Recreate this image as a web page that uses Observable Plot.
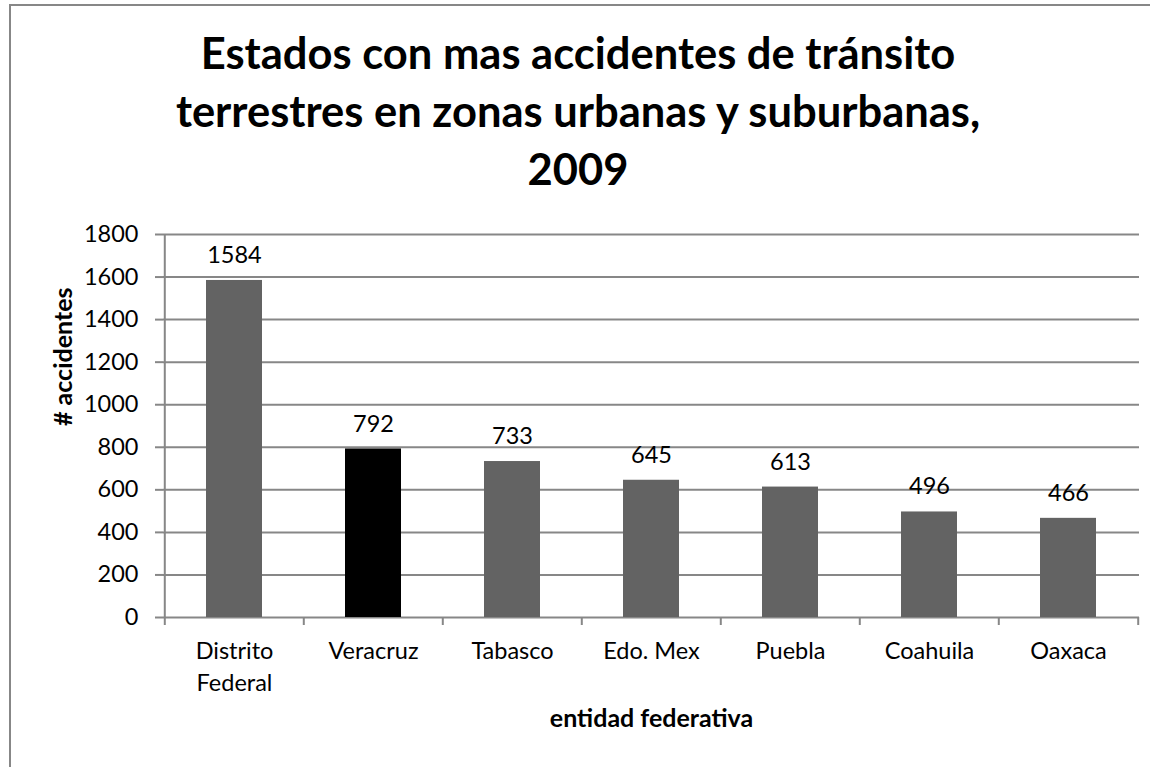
<!DOCTYPE html>
<html>
<head>
<meta charset="utf-8">
<script src="https://cdn.jsdelivr.net/npm/d3@7"></script>
<script src="https://cdn.jsdelivr.net/npm/@observablehq/plot@0.6"></script>
<style>
  html, body { margin: 0; padding: 0; background: #fff; }
  #wrap { position: relative; width: 1150px; height: 767px; overflow: hidden; font-family: Lato, "Open Sans", sans-serif; background: #fff; }
  #border { position: absolute; left: 9px; top: 4px; width: 1200px; height: 800px; border-top: 2px solid #878787; border-left: 2px solid #878787; box-sizing: border-box; z-index: 5; pointer-events: none; }
  #title { position: absolute; left: 0; top: 0; width: 1156px; height: 215px; text-align: center; font-weight: 700; font-size: 43.5px; line-height: 58px; padding-top: 23px; box-sizing: border-box; color: #000; }
  #chart { position: absolute; left: 0; top: 215px; }
</style>
</head>
<body>
<div id="wrap">
  <div id="border"></div>
  <div id="title">Estados con mas accidentes de tránsito<br>terrestres en zonas urbanas y suburbanas,<br>2009</div>
  <div id="chart"></div>
</div>
<script>
const categories = ["Distrito Federal", "Veracruz", "Tabasco", "Edo. Mex", "Puebla", "Coahuila", "Oaxaca"];
const values = [1584, 792, 733, 645, 613, 496, 466];
const highlighted = ["Veracruz"];
const yTicks = [0, 200, 400, 600, 800, 1000, 1200, 1400, 1600, 1800];
const xTitle = "entidad federativa";
const yTitle = "# accidentes";

const data = categories.map((c, i) => ({category: c, value: values[i]}));

const W = 1150, H = 552;
const mL = 163, mR = 11, mT = 19, mB = 150;
const step = (W - mL - mR) / categories.length;
const grid = "#878787";
const labelFont = 23.5;

const plot = Plot.plot({
  width: W,
  height: H,
  marginLeft: mL,
  marginRight: mR,
  marginTop: mT,
  marginBottom: mB,
  style: {fontFamily: "Lato, 'Open Sans', sans-serif", fontSize: labelFont + "px", color: "#000", background: "transparent", overflow: "visible"},
  x: {domain: categories, paddingInner: 0.6, paddingOuter: 0.3},
  y: {domain: [0, 1800]},
  marks: [
    Plot.ruleY(yTicks, {stroke: grid, strokeWidth: 2}),
    Plot.ruleX([categories[0]], {dx: -step / 2, stroke: grid, strokeWidth: 2}),
    Plot.ruleX(categories, {y1: 0, y2: 0, dx: -step / 2, insetBottom: -8, stroke: grid, strokeWidth: 2}),
    Plot.ruleX([categories[categories.length - 1]], {y1: 0, y2: 0, dx: step / 2, insetBottom: -8, stroke: grid, strokeWidth: 2}),
    Plot.barY(data, {x: "category", y: "value", fill: d => highlighted.includes(d.category) ? "#000000" : "#636363"}),
    Plot.text(data, {x: "category", y: "value", text: d => String(d.value), dy: -25, fontSize: labelFont, fill: "#000"}),
    Plot.axisY(yTicks, {tickSize: 8, tickPadding: 17, stroke: grid, strokeWidth: 2, fontSize: labelFont, label: null, tickFormat: d => String(d)}),
    Plot.axisX({tickSize: 0, tickPadding: 19, fontSize: labelFont, lineHeight: 1.36, label: null, tickFormat: d => d.replace(" Federal", "\nFederal")}),
    Plot.text([xTitle], {frameAnchor: "bottom", dy: 109, fontWeight: "bold", fontSize: 25, fill: "#000"}),
    Plot.text([yTitle], {frameAnchor: "left", dx: -100, rotate: -90, fontWeight: "bold", fontSize: 25, fill: "#000"})
  ]
});
document.getElementById("chart").appendChild(plot);
</script>
</body>
</html>
